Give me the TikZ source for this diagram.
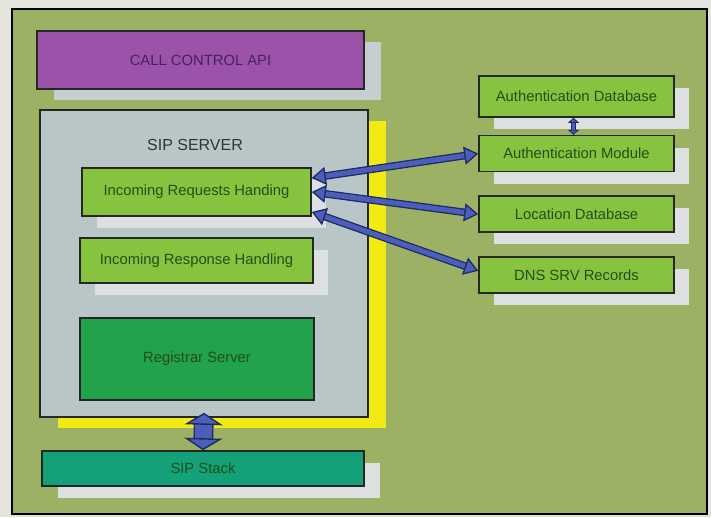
\documentclass[tikz,border=0pt]{standalone}
\usepackage{fontspec}
\setmainfont{Liberation Sans}
\usetikzlibrary{positioning, arrows.meta, shadows}
\definecolor{pagegray}{HTML}{E4E3DC}
\definecolor{fieldgreen}{HTML}{9DB164}
\definecolor{apipurple}{HTML}{9A53A8}
\definecolor{apitext}{HTML}{4A2060}
\definecolor{servergray}{HTML}{B9C6C8}
\definecolor{boxgreen}{HTML}{86C440}
\definecolor{boxtext}{HTML}{234F18}
\definecolor{regreen}{HTML}{22A24A}
\definecolor{stackteal}{HTML}{14A079}
\definecolor{shadowyellow}{HTML}{F2EA14}
\definecolor{shadowgray}{HTML}{C6CFCF}
\definecolor{shadowlight}{HTML}{DCE0E0}
\definecolor{arrowblue}{HTML}{4C5EBA}
\definecolor{arrownavy}{HTML}{1C2A66}
\tikzset{
    x=1pt, y=-1pt, % pixel-like coordinates, y grows downwards
    block/.style={ % every box of the diagram
        draw=black!85,
        line width=1.6pt,
        inner sep=0pt,
        font=\fontsize{14.8}{16}\selectfont,
        text=boxtext
    },
    lightbox/.style={
        block,
        fill=boxgreen,
        drop shadow={shadow xshift=15pt, shadow yshift=-12pt, fill=shadowlight, opacity=1}
    },
    sidebox/.style={
        lightbox,
        minimum width=195pt,
        minimum height=36pt
    },
    link/.style={ % fat blue double arrows
        draw=arrownavy,
        line width=1.3pt,
        double=arrowblue,
        double distance=5pt,
        {Triangle[width=18pt, length=14pt, fill=arrowblue]}-{Triangle[width=18pt, length=14pt, fill=arrowblue]}
    }
}
\begin{document}
\begin{tikzpicture}
    \fill[pagegray] (0,0) rectangle (711,517);
    \useasboundingbox (0,0) rectangle (711,517);
    \draw[fill=fieldgreen, line width=2.6pt] (12,9) rectangle (707,514);

    \node[block, fill=apipurple, text=apitext, minimum width=327pt, minimum height=58pt,
          drop shadow={shadow xshift=17pt, shadow yshift=-11pt, fill=shadowgray, opacity=1}]
          (api) at (200.5,60) {CALL CONTROL API};

    \node[block, fill=servergray, minimum width=328pt, minimum height=307pt,
          drop shadow={shadow xshift=18pt, shadow yshift=-11pt, fill=shadowyellow, opacity=1}]
          (srv) at (204,263.5) {};
    \node[font=\fontsize{16}{18}\selectfont, text=black!80] (srvname) at (195,145) {SIP SERVER};

    \node[lightbox, minimum width=229pt, minimum height=48pt] (req) at (196.5,192) {Incoming Requests Handing};
    \node[lightbox, minimum width=233pt, minimum height=45pt] (resp) at (196.5,260.5) {Incoming Response Handling};
    \node[block, fill=regreen, minimum width=234pt, minimum height=82pt] (reg) at (197,359) {Registrar Server};

    \node[block, fill=stackteal, minimum width=322pt, minimum height=35pt,
          drop shadow={shadow xshift=16pt, shadow yshift=-12pt, fill=shadowlight, opacity=1}]
          (stack) at (203,468.5) {SIP Stack};

    % right column
    \node[sidebox, minimum height=41pt] (authdb) at (576.5,96.5) {Authentication Database};
    \node[sidebox, below=17pt of authdb] (authmod) {Authentication Module};
    \node[sidebox, below=23pt of authmod] (locdb) {Location Database};
    \node[sidebox, below=23pt of locdb] (dns) {DNS SRV Records};

    \draw[link] ([yshift=14pt]req.east) -- (authmod.west);
    \draw[link] (req.east) -- (locdb.west);
    \draw[link] ([yshift=-20pt]req.east) -- ([yshift=4pt]dns.west);
    \draw[link, double distance=3pt, line width=0.9pt,
          {Triangle[width=11pt, length=5pt, fill=arrowblue]}-{Triangle[width=11pt, length=5pt, fill=arrowblue]}]
          ([xshift=-3pt]authdb.south) -- ([xshift=-3pt]authmod.north);
    \draw[link, double distance=17pt, line width=1.4pt,
          {Triangle[width=38pt, length=12pt, fill=arrowblue]}-{Triangle[width=38pt, length=12pt, fill=arrowblue]}]
          ([yshift=5pt]srv.south) -- (stack.north);
\end{tikzpicture}
\end{document}
